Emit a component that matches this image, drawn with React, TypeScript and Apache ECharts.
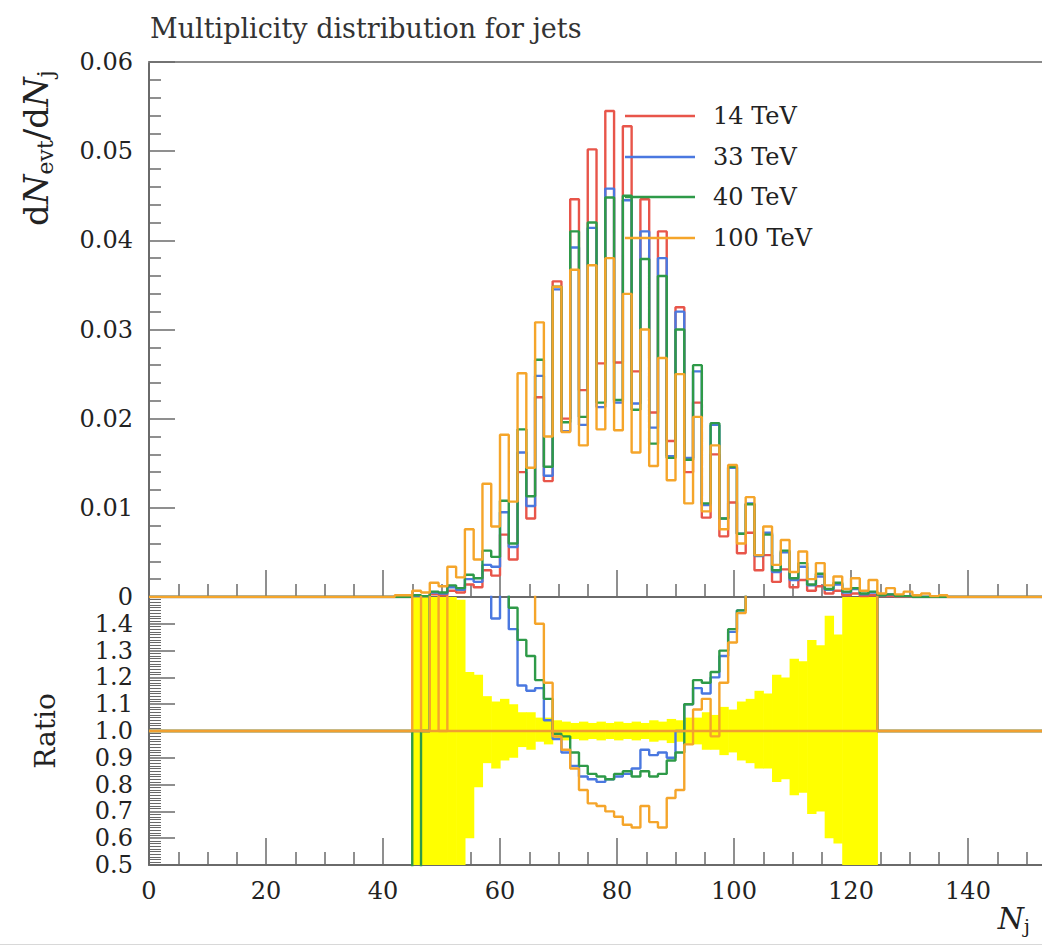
import React, { useEffect, useRef } from "react";
import * as echarts from "echarts";

const FONT = '"DejaVu Serif", "Liberation Serif", serif';

// Histogram binning (bin starts at 42, width 1.5)
const BIN_START = 42;
const BIN_WIDTH = 1.5;
const X_MAX = 160;

const SERIES_NAMES = ["14 TeV", "33 TeV", "40 TeV", "100 TeV"];
const COLORS = ["#e8554a", "#4a78e0", "#2e9a48", "#f5a52a"];

// dN_evt/dN_j per bin
const N_14 = [
  0.0, 0.0, 0.0001, 0.0001, 0.0003, 0.0002, 0.0007, 0.0005, 0.0014, 0.0011,
  0.003, 0.0024, 0.007, 0.0042, 0.014, 0.0088, 0.0224, 0.013, 0.0354, 0.02,
  0.0446, 0.0232, 0.0502, 0.0262, 0.0545, 0.0263, 0.0528, 0.0253, 0.0446, 0.0207,
  0.041, 0.0175, 0.0325, 0.014, 0.0218, 0.0089, 0.016, 0.0068, 0.0106, 0.0049,
  0.0072, 0.003, 0.0047, 0.0017, 0.0031, 0.0011, 0.0019, 0.0007, 0.0012, 0.0004,
  0.0007, 0.0002, 0.0004, 0.0001, 0.0002, 0.0001, 0.0001, 0.0, 0.0, 0.0,
  0.0, 0.0, 0.0,
];
const N_33 = [
  0.0, 0.0, 0.0001, 0.0001, 0.0005, 0.0004, 0.0011, 0.0008, 0.002, 0.0017,
  0.0036, 0.0034, 0.0095, 0.0056, 0.0162, 0.0102, 0.0248, 0.0136, 0.0345, 0.0186,
  0.0392, 0.0193, 0.0414, 0.0213, 0.0458, 0.0218, 0.0445, 0.0217, 0.041, 0.019,
  0.038, 0.0158, 0.032, 0.0156, 0.0253, 0.0103, 0.0193, 0.0088, 0.0145, 0.0071,
  0.0105, 0.0046, 0.0072, 0.0028, 0.005, 0.0019, 0.0034, 0.0013, 0.0023, 0.0008,
  0.0014, 0.0005, 0.0009, 0.0003, 0.0005, 0.0002, 0.0003, 0.0001, 0.0001, 0.0,
  0.0, 0.0, 0.0,
];
const N_40 = [
  0.0, 0.0, 0.0002, 0.0001, 0.0006, 0.0005, 0.0013, 0.001, 0.0025, 0.0021,
  0.0052, 0.0045, 0.0108, 0.006, 0.0188, 0.0113, 0.0266, 0.0146, 0.0348, 0.0196,
  0.041, 0.0202, 0.042, 0.0218, 0.0448, 0.0221, 0.045, 0.021, 0.0379, 0.0172,
  0.036, 0.0156, 0.03, 0.0154, 0.026, 0.0105, 0.0195, 0.0088, 0.0146, 0.0071,
  0.0104, 0.0047, 0.007, 0.003, 0.0052, 0.0021, 0.0038, 0.0014, 0.0026, 0.0009,
  0.0016, 0.0006, 0.001, 0.0004, 0.0006, 0.0002, 0.0003, 0.0001, 0.0001, 0.0,
  0.0, 0.0, 0.0,
];
const N_100 = [
  0.0002, 0.0002, 0.0007, 0.0005, 0.0016, 0.0012, 0.0034, 0.0022, 0.0076, 0.0042,
  0.0127, 0.0079, 0.0182, 0.0107, 0.0251, 0.0145, 0.0308, 0.018, 0.0348, 0.0185,
  0.0367, 0.017, 0.0372, 0.0188, 0.038, 0.0187, 0.034, 0.0162, 0.03, 0.0147,
  0.0268, 0.0131, 0.025, 0.0105, 0.0202, 0.0096, 0.017, 0.0076, 0.0148, 0.006,
  0.0112, 0.0047, 0.0079, 0.0036, 0.0064, 0.0028, 0.0051, 0.002, 0.0038, 0.0013,
  0.0023, 0.0009, 0.0021, 0.0007, 0.0019, 0.0004, 0.001, 0.0003, 0.0006, 0.0002,
  0.0004, 0.0001, 0.0002,
];

// Ratios to 14 TeV per bin (3 = above the panel, 0.2 = below it, 1 = empty)
const R_33 = [
  1, 1, 1, 1, 3, 3, 3, 3, 3, 3,
  3, 1.42, 1.6, 1.38, 1.17, 1.15, 1.16, 1.04, 0.97, 0.92,
  0.87, 0.83, 0.82, 0.81, 0.82, 0.83, 0.84, 0.86, 0.93, 0.91,
  0.92, 0.9, 1.0, 1.1, 1.16, 1.14, 1.2, 1.28, 1.37, 1.45,
  1.53, 3, 3, 3, 3, 3, 3, 3, 3, 3,
  3, 3, 3, 3, 3, 1, 1, 1, 1, 1,
  1, 1, 1,
];
const R_40 = [
  1, 1, 0.2, 1, 3, 3, 3, 3, 3, 3,
  3, 3, 1.6, 1.46, 1.34, 1.28, 1.19, 1.12, 0.99, 0.98,
  0.92, 0.87, 0.84, 0.83, 0.82, 0.84, 0.85, 0.83, 0.85, 0.83,
  0.84, 0.89, 0.92, 1.1, 1.19, 1.18, 1.22, 1.3, 1.38, 1.45,
  1.55, 3, 3, 3, 3, 3, 3, 3, 3, 3,
  3, 3, 3, 3, 3, 1, 1, 1, 1, 1,
  1, 1, 1,
];
const R_100 = [
  1, 1, 3, 1, 3, 1, 3, 3, 3, 3,
  3, 3, 3, 3, 3, 1.6, 1.4, 1.18, 0.98, 0.93,
  0.86, 0.78, 0.73, 0.72, 0.7, 0.68, 0.65, 0.64, 0.72, 0.66,
  0.64, 0.75, 0.78, 0.95, 1.08, 1.12, 0.98, 1.18, 1.33, 1.44,
  1.55, 3, 3, 3, 3, 3, 3, 3, 3, 3,
  3, 3, 3, 3, 3, 1, 1, 1, 1, 1,
  1, 1, 1,
];

// Statistical uncertainty band of the reference (14 TeV)
const BAND_LO = [
  null, null, 0.5, 0.5, 0.5, 0.5, 0.5, 0.5, 0.6, 0.79,
  0.88, 0.86, 0.89, 0.9, 0.94, 0.93, 0.96, 0.95, 0.97, 0.965,
  0.97, 0.965, 0.97, 0.965, 0.97, 0.965, 0.97, 0.965, 0.97, 0.96,
  0.965, 0.955, 0.96, 0.95, 0.95, 0.93, 0.93, 0.91, 0.92, 0.89,
  0.88, 0.86, 0.86, 0.81, 0.82, 0.76, 0.77, 0.69, 0.7, 0.6,
  0.58, 0.5, 0.5, 0.5, 0.5, null, null, null, null, null,
  null, null, null,
];
const BAND_HI = [
  null, null, 1.5, 1.5, 1.5, 1.5, 1.5, 1.49, 1.22, 1.21,
  1.13, 1.11, 1.12, 1.1, 1.07, 1.07, 1.05, 1.05, 1.04, 1.035,
  1.03, 1.035, 1.03, 1.035, 1.03, 1.035, 1.03, 1.035, 1.03, 1.04,
  1.035, 1.045, 1.04, 1.05, 1.05, 1.07, 1.06, 1.09, 1.08, 1.11,
  1.12, 1.15, 1.14, 1.21, 1.2, 1.27, 1.26, 1.34, 1.32, 1.43,
  1.36, 1.5, 1.5, 1.5, 1.5, null, null, null, null, null,
  null, null, null,
];

function stepData(vals: number[], base: number) {
  const pts: number[][] = [[0, base]];
  vals.forEach((v, i) => pts.push([BIN_START + i * BIN_WIDTH, v]));
  pts.push([BIN_START + vals.length * BIN_WIDTH, base]);
  pts.push([X_MAX, base]);
  return pts;
}

function bandData() {
  const out: number[][] = [];
  BAND_LO.forEach((lo, i) => {
    const hi = BAND_HI[i];
    if (lo === null || hi === null) return;
    const x0 = BIN_START + i * BIN_WIDTH;
    out.push([x0, x0 + BIN_WIDTH, lo, hi]);
  });
  return out;
}

const AXIS_COLOR = "#6a6a6a";

function buildOption() {
  const tops = [N_14, N_33, N_40, N_100];
  const ratios = [R_33, R_40, R_100];
  const labelStyle = { fontFamily: FONT, fontSize: 24, color: "#222" };
  const legendY = [116, 157, 197, 238];

  const series: any[] = [];
  tops.forEach((vals, i) => {
    series.push({
      type: "line",
      name: SERIES_NAMES[i],
      xAxisIndex: 0,
      yAxisIndex: 0,
      step: "end",
      showSymbol: false,
      data: stepData(vals, 0),
      lineStyle: { color: COLORS[i], width: 2.4 },
      itemStyle: { color: COLORS[i] },
      z: 3 + i,
    });
  });
  series.push({
    type: "custom",
    name: "band",
    xAxisIndex: 1,
    yAxisIndex: 1,
    data: bandData(),
    encode: { x: [0, 1], y: [2, 3] },
    renderItem: (_p: any, api: any) => {
      const a = api.coord([api.value(0), api.value(3)]);
      const b = api.coord([api.value(1), api.value(2)]);
      return {
        type: "rect",
        shape: { x: a[0], y: a[1], width: b[0] - a[0] + 0.6, height: b[1] - a[1] },
        style: { fill: "#ffff00" },
      };
    },
    z: 1,
  });
  ratios.forEach((vals, i) => {
    series.push({
      type: "line",
      name: "ratio " + SERIES_NAMES[i + 1],
      xAxisIndex: 1,
      yAxisIndex: 1,
      step: "end",
      showSymbol: false,
      clip: true,
      data: stepData(vals, 1),
      lineStyle: { color: COLORS[i + 1], width: 2.4 },
      itemStyle: { color: COLORS[i + 1] },
      z: 3 + i,
    });
  });
  series.push({
    type: "line",
    name: "reference",
    xAxisIndex: 1,
    yAxisIndex: 1,
    showSymbol: false,
    data: [
      [0, 1],
      [X_MAX, 1],
    ],
    lineStyle: { color: "#f0a030", width: 2.4 },
    z: 7,
  });

  const graphic: any[] = [
    {
      type: "text",
      x: 150,
      y: 28,
      style: {
        text: "Multiplicity distribution for jets",
        fontFamily: FONT,
        fontSize: 27,
        fill: "#333",
        align: "left",
        verticalAlign: "middle",
      },
    },
    {
      type: "text",
      x: 36,
      y: 226,
      rotation: Math.PI / 2,
      style: {
        text: "{r|d}{i|N}{s|evt}{r|/d}{i|N}{s|j}",
        align: "left",
        verticalAlign: "middle",
        fill: "#222",
        rich: {
          r: { fontFamily: FONT, fontSize: 34, lineHeight: 40, fill: "#222" },
          i: { fontFamily: FONT, fontSize: 34, lineHeight: 40, fontStyle: "italic", fill: "#222" },
          s: { fontFamily: FONT, fontSize: 22, lineHeight: 22, verticalAlign: "bottom", fill: "#222" },
        },
      },
    },
    {
      type: "text",
      x: 45,
      y: 731,
      rotation: Math.PI / 2,
      style: {
        text: "Ratio",
        fontFamily: FONT,
        fontSize: 28,
        fill: "#222",
        align: "center",
        verticalAlign: "middle",
      },
    },
    {
      type: "text",
      x: 1030,
      y: 918,
      style: {
        text: "{i|N}{s|j}",
        align: "right",
        verticalAlign: "middle",
        rich: {
          i: { fontFamily: FONT, fontSize: 30, lineHeight: 34, fontStyle: "italic", fill: "#222" },
          s: { fontFamily: FONT, fontSize: 19, lineHeight: 19, verticalAlign: "bottom", fill: "#222" },
        },
      },
    },
    {
      type: "line",
      shape: { x1: 0, y1: 944.5, x2: 1042, y2: 944.5 },
      style: { stroke: "#d8d8d8", lineWidth: 1 },
    },
  ];
  SERIES_NAMES.forEach((name, i) => {
    graphic.push({
      type: "line",
      shape: { x1: 625, y1: legendY[i], x2: 695, y2: legendY[i] },
      style: { stroke: COLORS[i], lineWidth: 2.6 },
      z: 10,
    });
    graphic.push({
      type: "text",
      x: 713,
      y: legendY[i],
      style: {
        text: name,
        fontFamily: FONT,
        fontSize: 24,
        fill: "#222",
        align: "left",
        verticalAlign: "middle",
      },
      z: 10,
    });
  });

  const xBase = {
    type: "value",
    min: 0,
    max: X_MAX,
    interval: 20,
    splitLine: { show: false },
    axisLine: { show: true, lineStyle: { color: AXIS_COLOR, width: 2 } },
    axisTick: { show: true, inside: true, length: 27, lineStyle: { color: AXIS_COLOR, width: 1.5 } },
    minorTick: { show: true, splitNumber: 4, length: 13, lineStyle: { color: AXIS_COLOR, width: 1.5 } },
  };

  return {
    animation: false,
    backgroundColor: "#ffffff",
    grid: [
      { left: 149, top: 62, width: 936, height: 535 },
      { left: 149, top: 597, width: 936, height: 268 },
    ],
    xAxis: [
      { ...xBase, gridIndex: 0, axisLabel: { show: false } },
      {
        ...xBase,
        gridIndex: 1,
        axisLabel: { ...labelStyle, margin: 14, showMaxLabel: false },
      },
      {
        type: "value",
        gridIndex: 0,
        position: "top",
        min: 0,
        max: X_MAX,
        interval: 20,
        splitLine: { show: false },
        axisLine: { show: true, lineStyle: { color: "#8a8a8a", width: 2 } },
        axisTick: { show: false },
        axisLabel: { show: false },
      },
    ],
    yAxis: [
      {
        type: "value",
        gridIndex: 0,
        min: 0,
        max: 0.06,
        interval: 0.01,
        splitLine: { show: false },
        axisLine: { show: true, lineStyle: { color: AXIS_COLOR, width: 2 } },
        axisTick: { show: true, inside: true, length: 26, lineStyle: { color: AXIS_COLOR, width: 1.5 } },
        minorTick: { show: true, splitNumber: 5, length: 12, lineStyle: { color: AXIS_COLOR, width: 1.5 } },
        axisLabel: {
          ...labelStyle,
          margin: 16,
          formatter: (v: number) => (Math.abs(v) < 1e-9 ? "0" : v.toFixed(2)),
        },
      },
      {
        type: "value",
        gridIndex: 1,
        min: 0.5,
        max: 1.5,
        interval: 0.1,
        splitLine: { show: false },
        axisLine: { show: true, lineStyle: { color: AXIS_COLOR, width: 2 } },
        axisTick: { show: true, inside: true, length: 26, lineStyle: { color: AXIS_COLOR, width: 1.5 } },
        minorTick: { show: true, splitNumber: 10, length: 12, lineStyle: { color: AXIS_COLOR, width: 1 } },
        axisLabel: {
          ...labelStyle,
          margin: 16,
          showMaxLabel: false,
          formatter: (v: number) => v.toFixed(1),
        },
      },
    ],
    series,
    graphic,
  };
}

export default function App() {
  const ref = useRef<HTMLDivElement>(null);
  useEffect(() => {
    document.body.style.margin = "0";
    const chart = echarts.init(ref.current as HTMLDivElement, undefined, { renderer: "svg" });
    chart.setOption(buildOption() as any);
    return () => chart.dispose();
  }, []);
  return (
    <div
      style={{
        position: "absolute",
        left: 0,
        top: 0,
        width: 1042,
        height: 946,
        overflow: "hidden",
        background: "#fff",
      }}
    >
      <div ref={ref} style={{ width: 1100, height: 946 }} />
    </div>
  );
}
